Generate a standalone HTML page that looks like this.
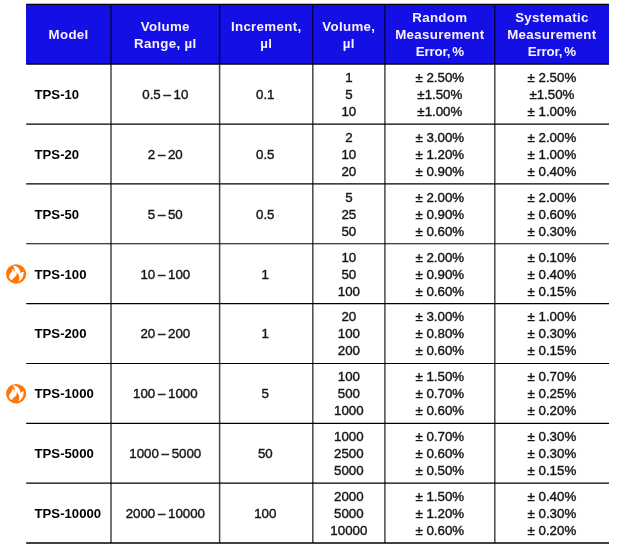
<!DOCTYPE html>
<html lang="en"><head><meta charset="utf-8"><title>TPS specifications</title>
<style>
html,body{margin:0;padding:0;background:#fff;}
body{width:626px;height:549px;position:relative;overflow:hidden;font-family:"Liberation Sans",Arial,sans-serif;}
#hd{position:absolute;left:26px;top:4px;width:583px;height:60px;background:#140fe4;}
.c{position:absolute;display:flex;flex-direction:column;justify-content:center;align-items:center;text-align:center;font-size:13.3px;line-height:17px;color:#151515;-webkit-text-stroke:0.4px #151515;white-space:nowrap;}
.c span{display:block;}
.r{word-spacing:-1px;}
.h{color:#f6f2ff;font-weight:bold;font-size:13.3px;letter-spacing:0.33px;line-height:17px;-webkit-text-stroke:0;}
.e{word-spacing:-1.5px;letter-spacing:-0.15px;}
.m{align-items:flex-start;font-weight:bold;color:#000;font-size:13.15px;-webkit-text-stroke:0;padding-top:1.6px;}
svg{position:absolute;left:0;top:0;}
</style></head><body>
<div id="hd"></div>

<div class="c h" style="left:26.2px;top:4.4px;width:84.8px;height:59.8px"><span>Model</span></div>
<div class="c h" style="left:111.0px;top:5.4px;width:108.6px;height:59.8px"><span>Volume</span><span>Range, µl</span></div>
<div class="c h" style="left:219.6px;top:5.4px;width:93.2px;height:59.8px"><span>Increment,</span><span>µl</span></div>
<div class="c h" style="left:312.8px;top:5.4px;width:72.1px;height:59.8px"><span>Volume,</span><span>µl</span></div>
<div class="c h" style="left:384.9px;top:4.4px;width:109.9px;height:59.8px"><span>Random</span><span>Measurement</span><span class="e">Error, %</span></div>
<div class="c h" style="left:494.8px;top:4.4px;width:114.2px;height:59.8px"><span>Systematic</span><span>Measurement</span><span class="e">Error, %</span></div>
<div class="c m" style="left:26.2px;top:64.2px;width:84.8px;height:59.9px;padding-left:8.4px;box-sizing:border-box"><span>TPS-10</span></div>
<div class="c r" style="left:111.0px;top:64.2px;width:108.6px;height:59.9px"><span>0.5 – 10</span></div>
<div class="c" style="left:218.7px;top:64.2px;width:93.2px;height:59.9px"><span>0.1</span></div>
<div class="c" style="left:312.8px;top:64.2px;width:72.1px;height:59.9px"><span>1</span><span>5</span><span>10</span></div>
<div class="c" style="left:384.9px;top:64.2px;width:109.9px;height:59.9px"><span>± 2.50%</span><span>±1.50%</span><span>±1.00%</span></div>
<div class="c" style="left:494.8px;top:64.2px;width:114.2px;height:59.9px"><span>± 2.50%</span><span>±1.50%</span><span>± 1.00%</span></div>
<div class="c m" style="left:26.2px;top:124.1px;width:84.8px;height:59.9px;padding-left:8.4px;box-sizing:border-box"><span>TPS-20</span></div>
<div class="c r" style="left:111.0px;top:124.1px;width:108.6px;height:59.9px"><span>2 – 20</span></div>
<div class="c" style="left:218.7px;top:124.1px;width:93.2px;height:59.9px"><span>0.5</span></div>
<div class="c" style="left:312.8px;top:124.1px;width:72.1px;height:59.9px"><span>2</span><span>10</span><span>20</span></div>
<div class="c" style="left:384.9px;top:124.1px;width:109.9px;height:59.9px"><span>± 3.00%</span><span>± 1.20%</span><span>± 0.90%</span></div>
<div class="c" style="left:494.8px;top:124.1px;width:114.2px;height:59.9px"><span>± 2.00%</span><span>± 1.00%</span><span>± 0.40%</span></div>
<div class="c m" style="left:26.2px;top:183.9px;width:84.8px;height:59.9px;padding-left:8.4px;box-sizing:border-box"><span>TPS-50</span></div>
<div class="c r" style="left:111.0px;top:184.9px;width:108.6px;height:59.9px"><span>5 – 50</span></div>
<div class="c" style="left:218.7px;top:184.9px;width:93.2px;height:59.9px"><span>0.5</span></div>
<div class="c" style="left:312.8px;top:184.9px;width:72.1px;height:59.9px"><span>5</span><span>25</span><span>50</span></div>
<div class="c" style="left:384.9px;top:184.9px;width:109.9px;height:59.9px"><span>± 2.00%</span><span>± 0.90%</span><span>± 0.60%</span></div>
<div class="c" style="left:494.8px;top:184.9px;width:114.2px;height:59.9px"><span>± 2.00%</span><span>± 0.60%</span><span>± 0.30%</span></div>
<div class="c m" style="left:26.2px;top:243.8px;width:84.8px;height:59.9px;padding-left:8.4px;box-sizing:border-box"><span>TPS-100</span></div>
<div class="c r" style="left:111.0px;top:244.8px;width:108.6px;height:59.9px"><span>10 – 100</span></div>
<div class="c" style="left:218.7px;top:244.8px;width:93.2px;height:59.9px"><span>1</span></div>
<div class="c" style="left:312.8px;top:244.8px;width:72.1px;height:59.9px"><span>10</span><span>50</span><span>100</span></div>
<div class="c" style="left:384.9px;top:244.8px;width:109.9px;height:59.9px"><span>± 2.00%</span><span>± 0.90%</span><span>± 0.60%</span></div>
<div class="c" style="left:494.8px;top:244.8px;width:114.2px;height:59.9px"><span>± 0.10%</span><span>± 0.40%</span><span>± 0.15%</span></div>
<div class="c m" style="left:26.2px;top:302.6px;width:84.8px;height:59.9px;padding-left:8.4px;box-sizing:border-box"><span>TPS-200</span></div>
<div class="c r" style="left:111.0px;top:303.6px;width:108.6px;height:59.9px"><span>20 – 200</span></div>
<div class="c" style="left:218.7px;top:303.6px;width:93.2px;height:59.9px"><span>1</span></div>
<div class="c" style="left:312.8px;top:303.6px;width:72.1px;height:59.9px"><span>20</span><span>100</span><span>200</span></div>
<div class="c" style="left:384.9px;top:303.6px;width:109.9px;height:59.9px"><span>± 3.00%</span><span>± 0.80%</span><span>± 0.60%</span></div>
<div class="c" style="left:494.8px;top:303.6px;width:114.2px;height:59.9px"><span>± 1.00%</span><span>± 0.30%</span><span>± 0.15%</span></div>
<div class="c m" style="left:26.2px;top:362.4px;width:84.8px;height:59.9px;padding-left:8.4px;box-sizing:border-box"><span>TPS-1000</span></div>
<div class="c r" style="left:111.0px;top:363.4px;width:108.6px;height:59.9px"><span>100 – 1000</span></div>
<div class="c" style="left:218.7px;top:363.4px;width:93.2px;height:59.9px"><span>5</span></div>
<div class="c" style="left:312.8px;top:363.4px;width:72.1px;height:59.9px"><span>100</span><span>500</span><span>1000</span></div>
<div class="c" style="left:384.9px;top:363.4px;width:109.9px;height:59.9px"><span>± 1.50%</span><span>± 0.70%</span><span>± 0.60%</span></div>
<div class="c" style="left:494.8px;top:363.4px;width:114.2px;height:59.9px"><span>± 0.70%</span><span>± 0.25%</span><span>± 0.20%</span></div>
<div class="c m" style="left:26.2px;top:422.3px;width:84.8px;height:59.9px;padding-left:8.4px;box-sizing:border-box"><span>TPS-5000</span></div>
<div class="c r" style="left:111.0px;top:423.3px;width:108.6px;height:59.9px"><span>1000 – 5000</span></div>
<div class="c" style="left:218.7px;top:423.3px;width:93.2px;height:59.9px"><span>50</span></div>
<div class="c" style="left:312.8px;top:423.3px;width:72.1px;height:59.9px"><span>1000</span><span>2500</span><span>5000</span></div>
<div class="c" style="left:384.9px;top:423.3px;width:109.9px;height:59.9px"><span>± 0.70%</span><span>± 0.60%</span><span>± 0.50%</span></div>
<div class="c" style="left:494.8px;top:423.3px;width:114.2px;height:59.9px"><span>± 0.30%</span><span>± 0.30%</span><span>± 0.15%</span></div>
<div class="c m" style="left:26.2px;top:483.1px;width:84.8px;height:59.9px;padding-left:8.4px;box-sizing:border-box"><span>TPS-10000</span></div>
<div class="c r" style="left:111.0px;top:483.1px;width:108.6px;height:59.9px"><span>2000 – 10000</span></div>
<div class="c" style="left:218.7px;top:483.1px;width:93.2px;height:59.9px"><span>100</span></div>
<div class="c" style="left:312.8px;top:483.1px;width:72.1px;height:59.9px"><span>2000</span><span>5000</span><span>10000</span></div>
<div class="c" style="left:384.9px;top:483.1px;width:109.9px;height:59.9px"><span>± 1.50%</span><span>± 1.20%</span><span>± 0.60%</span></div>
<div class="c" style="left:494.8px;top:483.1px;width:114.2px;height:59.9px"><span>± 0.40%</span><span>± 0.30%</span><span>± 0.20%</span></div>
<svg width="626" height="549" viewBox="0 0 626 549">
<g stroke="#000" stroke-width="1.15" fill="none">
<line x1="26.2" y1="4.40" x2="609.0" y2="4.40"/>
<line x1="26.2" y1="64.20" x2="609.0" y2="64.20"/>
<line x1="26.2" y1="124.05" x2="609.0" y2="124.05"/>
<line x1="26.2" y1="183.90" x2="609.0" y2="183.90"/>
<line x1="26.2" y1="243.75" x2="609.0" y2="243.75"/>
<line x1="26.2" y1="303.60" x2="609.0" y2="303.60"/>
<line x1="26.2" y1="363.45" x2="609.0" y2="363.45"/>
<line x1="26.2" y1="423.30" x2="609.0" y2="423.30"/>
<line x1="26.2" y1="483.15" x2="609.0" y2="483.15"/>
<line stroke-width="1.6" x1="26.2" y1="543.00" x2="609.0" y2="543.00"/>
<line stroke-width="1.5" stroke-opacity="0.72" x1="111.0" y1="4.40" x2="111.0" y2="543.00"/>
<line stroke-width="1.5" stroke-opacity="0.72" x1="219.6" y1="4.40" x2="219.6" y2="543.00"/>
<line stroke-width="1.5" stroke-opacity="0.72" x1="312.8" y1="4.40" x2="312.8" y2="543.00"/>
<line stroke-width="1.5" stroke-opacity="0.72" x1="384.9" y1="4.40" x2="384.9" y2="543.00"/>
<line stroke-width="1.5" stroke-opacity="0.72" x1="494.8" y1="4.40" x2="494.8" y2="543.00"/>
</g>
<g transform="translate(16.13 273.98)"><ellipse rx="10.1" ry="9.75" fill="#ff7606"/><path fill="#fff" d="M-3.4 -8.4 C0 -8.5 2.8 -6.3 3.9 -3.3 C4.2 -2.4 4.25 -1.4 4.2 -0.5 C5.2 -1.9 6.6 -2.2 8 -2 C7 -0.5 7.6 1 6.9 2.4 C6.3 4 5.5 5.2 4.3 6.3 C3.5 7 2.6 7.5 1.8 7.7 C2.6 6.8 3 6.2 3 5.5 C3.5 3.4 2.9 0.6 0.5 -1.9 C0.8 -0.2 0.6 0.9 0.1 1.5 C-0.6 2.5 -1.5 3.2 -2.3 3.9 C-3.2 4.7 -3.9 5.4 -4 6.25 C-5 6 -5.6 5.5 -6 5 C-6.8 4.2 -7.2 3.3 -7.1 2.4 C-7 1.5 -6.7 0.8 -6.2 0.2 C-5.6 -0.7 -4.9 -1.4 -4.5 -2.2 C-4 -3.2 -3.7 -4.2 -3.7 -5.2 C-2.9 -4.5 -2 -3.5 -1.5 -2.3 C-1.2 -3.6 -1.4 -4.6 -1.8 -5.5 C-2.1 -6.3 -2.6 -7.4 -3.4 -8.4 Z"/></g>
<g transform="translate(16.13 393.68)"><ellipse rx="10.1" ry="9.75" fill="#ff7606"/><path fill="#fff" d="M-3.4 -8.4 C0 -8.5 2.8 -6.3 3.9 -3.3 C4.2 -2.4 4.25 -1.4 4.2 -0.5 C5.2 -1.9 6.6 -2.2 8 -2 C7 -0.5 7.6 1 6.9 2.4 C6.3 4 5.5 5.2 4.3 6.3 C3.5 7 2.6 7.5 1.8 7.7 C2.6 6.8 3 6.2 3 5.5 C3.5 3.4 2.9 0.6 0.5 -1.9 C0.8 -0.2 0.6 0.9 0.1 1.5 C-0.6 2.5 -1.5 3.2 -2.3 3.9 C-3.2 4.7 -3.9 5.4 -4 6.25 C-5 6 -5.6 5.5 -6 5 C-6.8 4.2 -7.2 3.3 -7.1 2.4 C-7 1.5 -6.7 0.8 -6.2 0.2 C-5.6 -0.7 -4.9 -1.4 -4.5 -2.2 C-4 -3.2 -3.7 -4.2 -3.7 -5.2 C-2.9 -4.5 -2 -3.5 -1.5 -2.3 C-1.2 -3.6 -1.4 -4.6 -1.8 -5.5 C-2.1 -6.3 -2.6 -7.4 -3.4 -8.4 Z"/></g>
</svg>
</body></html>
